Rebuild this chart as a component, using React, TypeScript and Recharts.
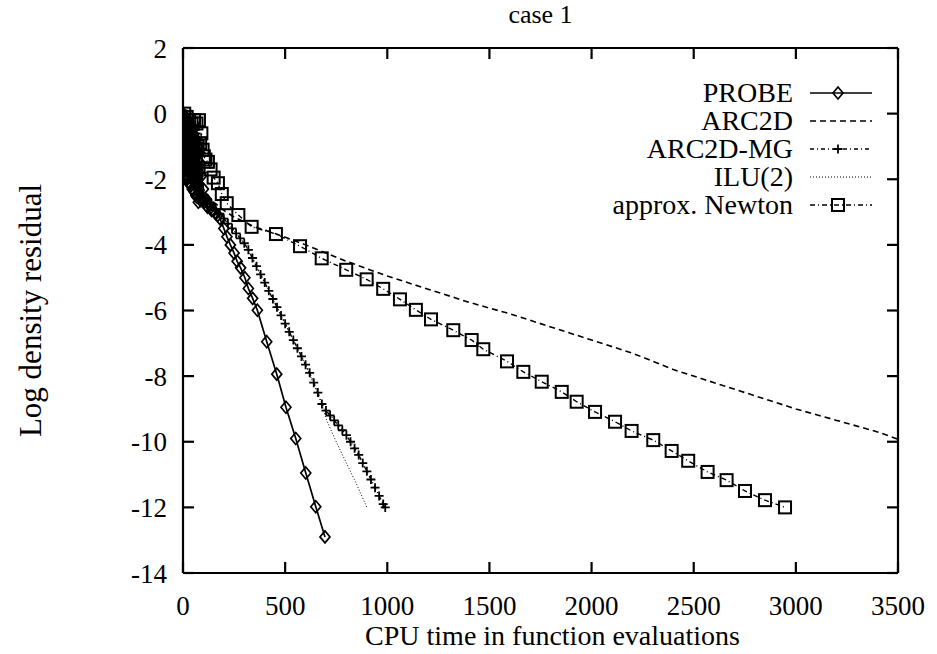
import React from 'react';
import { LineChart, Line, XAxis, YAxis, Legend, Label } from 'recharts';

const xTicks = [0, 500, 1000, 1500, 2000, 2500, 3000, 3500];
const yTicks = [2, 0, -2, -4, -6, -8, -10, -12, -14];

const title = 'case 1';
const xTitle = 'CPU time in function evaluations';
const yTitle = 'Log density residual';

const seriesNames = ['PROBE', 'ARC2D', 'ARC2D-MG', 'ILU(2)', 'approx. Newton'];

const probeX = [0, 3, 6, 9, 12, 15, 18, 21, 24, 27, 30, 33, 36, 39, 42, 45, 48, 51, 54, 57, 60, 63, 66, 69, 72, 75, 78, 81, 84, 87, 90, 95, 100, 105, 110, 120, 130, 140, 150, 160, 170, 181, 200, 215, 232, 250, 265, 282, 303, 320, 341, 364, 410, 459, 504, 552, 601, 650, 695];
const probeY = [-0.1, -1.8, -0.05, -1.9, -0.2, -1.95, -0.15, -2.0, -0.3, -2.1, -0.35, -2.15, -0.45, -2.2, -0.5, -2.3, -0.6, -2.35, -0.7, -2.4, -0.75, -2.5, -0.9, -2.55, -1.0, -2.7, -1.2, -2.6, -1.5, -2.65, -1.9, -2.6, -2.3, -2.7, -2.6, -2.85, -2.8, -2.95, -2.95, -3.05, -3.1, -3.2, -3.5, -3.75, -4.0, -4.25, -4.5, -4.7, -5.0, -5.33, -5.63, -5.99, -6.95, -7.94, -8.95, -9.9, -10.95, -11.98, -12.9];

const arcX = [0, 5, 10, 15, 20, 25, 30, 35, 40, 45, 50, 55, 60, 65, 70, 75, 80, 85, 90, 100, 150, 200, 250, 300, 350, 450, 600, 800, 1000, 1200, 1400, 1600, 1800, 2000, 2200, 2400, 2600, 2800, 3000, 3200, 3400, 3500];
const arcY = [0.1, -1.0, -0.1, -1.2, -0.2, -1.3, -0.3, -1.4, -0.4, -1.5, -0.5, -1.6, -0.6, -1.7, -0.8, -1.8, -1.0, -2.0, -1.6, -2.3, -2.7, -2.95, -3.15, -3.3, -3.45, -3.65, -4.0, -4.5, -4.95, -5.35, -5.75, -6.1, -6.5, -6.9, -7.3, -7.8, -8.2, -8.6, -9.0, -9.35, -9.7, -9.92];

const mgX = [0, 4, 8, 12, 16, 20, 24, 28, 32, 36, 40, 44, 48, 52, 56, 60, 64, 68, 72, 76, 80, 84, 88, 92, 96, 100, 120, 140, 160, 180, 200, 220, 240, 260, 280, 300, 320, 340, 360, 380, 400, 420, 440, 460, 480, 500, 520, 540, 560, 580, 600, 620, 640, 660, 680, 700, 720, 740, 760, 780, 800, 820, 840, 860, 880, 900, 920, 940, 960, 980, 990];
const mgY = [0.1, -1.5, 0.0, -1.6, -0.1, -1.7, -0.2, -1.8, -0.2, -1.9, -0.3, -2.0, -0.4, -2.1, -0.5, -2.2, -0.6, -2.3, -0.8, -2.4, -0.9, -2.5, -1.2, -2.5, -1.8, -2.5, -2.6, -2.75, -2.9, -3.05, -3.2, -3.35, -3.5, -3.65, -3.8, -3.95, -4.15, -4.4, -4.65, -4.9, -5.15, -5.4, -5.65, -5.9, -6.15, -6.4, -6.65, -6.9, -7.15, -7.4, -7.65, -7.9, -8.2, -8.5, -8.85, -9.05, -9.2, -9.35, -9.5, -9.65, -9.8, -10.0, -10.2, -10.4, -10.65, -10.9, -11.15, -11.4, -11.65, -11.9, -12.0];

const iluX = [0, 10, 20, 30, 40, 50, 60, 70, 80, 90, 100, 200, 300, 400, 500, 600, 680, 700, 750, 800, 850, 900];
const iluY = [0.0, -0.5, -0.8, -1.1, -1.4, -1.7, -1.9, -2.1, -2.3, -2.4, -2.5, -3.2, -3.95, -5.15, -6.4, -7.65, -8.85, -9.3, -10.0, -10.65, -11.3, -12.0];

const newtonX = [0, 6, 12, 18, 24, 30, 36, 42, 48, 54, 60, 66, 72, 78, 84, 90, 96, 102, 110, 122, 135, 150, 171, 190, 214, 271, 336, 455, 573, 679, 799, 899, 980, 1062, 1140, 1214, 1323, 1413, 1470, 1586, 1666, 1756, 1854, 1927, 2017, 2115, 2196, 2302, 2392, 2473, 2568, 2661, 2751, 2849, 2947];
const newtonY = [-0.2, 0.0, -0.6, -0.1, -0.8, -0.2, -0.9, -0.3, -1.0, -0.2, -1.1, -0.3, -1.0, -0.2, -0.9, -0.6, -1.1, -1.3, -1.4, -1.47, -1.7, -1.95, -2.12, -2.45, -2.73, -3.09, -3.45, -3.67, -4.04, -4.41, -4.76, -5.05, -5.34, -5.66, -5.98, -6.27, -6.6, -6.9, -7.18, -7.55, -7.87, -8.17, -8.48, -8.78, -9.09, -9.39, -9.67, -9.95, -10.28, -10.58, -10.92, -11.17, -11.5, -11.78, -12.0];

const zip = (xs: number[], ys: number[]) => xs.map((x, i) => ({ x, y: ys[i] }));
const probeData = zip(probeX, probeY);
const arcData = zip(arcX, arcY);
const mgData = zip(mgX, mgY);
const iluData = zip(iluX, iluY);
const newtonData = zip(newtonX, newtonY);

const X_MIN = 0, X_MAX = 3500, Y_MIN = -14, Y_MAX = 2;

const FONT = "'Liberation Serif', 'Times New Roman', serif";
const FS = 27;
const TL = 11; // inward tick length, px
const XM = 23; // gap between bottom axis and its labels
const YM = 16; // gap between left axis and its labels

const diamond = (cx: number, cy: number, key?: string) => (
  <path key={key} d={`M${cx},${cy - 6}L${cx + 5},${cy}L${cx},${cy + 6}L${cx - 5},${cy}Z`} fill="none" stroke="#000" strokeWidth={1.7} />
);
const square = (cx: number, cy: number, key?: string) => (
  <rect key={key} x={cx - 6} y={cy - 6} width={12} height={12} fill="none" stroke="#000" strokeWidth={2} />
);
const plus = (cx: number, cy: number, key?: string) => (
  <path key={key} d={`M${cx - 4.5},${cy}L${cx + 4.5},${cy}M${cx},${cy - 4.5}L${cx},${cy + 4.5}`} stroke="#000" strokeWidth={1.8} />
);

const DiamondDot = (p: any) => diamond(p.cx, p.cy, `d${p.index}`);
const SquareDot = (p: any) => square(p.cx, p.cy, `s${p.index}`);
const PlusDot = (p: any) => plus(p.cx, p.cy, `p${p.index}`);

// custom tick renderers: an inward tick mark plus (for bottom/left) the value text
const BottomTick = (p: any) => (
  <g>
    <line x1={p.x} x2={p.x} y1={p.y - XM} y2={p.y - XM - TL} stroke="#000" strokeWidth={2.2} />
    <text x={p.x} y={p.y} dy="0.71em" textAnchor="middle" fontFamily={FONT} fontSize={FS} fill="#000">{p.payload.value}</text>
  </g>
);
const LeftTick = (p: any) => (
  <g>
    <line x1={p.x + YM} x2={p.x + YM + TL} y1={p.y} y2={p.y} stroke="#000" strokeWidth={2.2} />
    <text x={p.x} y={p.y} dy="0.355em" textAnchor="end" fontFamily={FONT} fontSize={FS} fill="#000">{p.payload.value}</text>
  </g>
);
const TopTick = (p: any) => (
  <line x1={p.x} x2={p.x} y1={p.y} y2={p.y + TL} stroke="#000" strokeWidth={2.2} />
);
const RightTick = (p: any) => (
  <line x1={p.x} x2={p.x - TL} y1={p.y} y2={p.y} stroke="#000" strokeWidth={2.2} />
);

const legendStyles = [
  { dash: undefined, mark: diamond, w: 1.7 },
  { dash: '6 4', mark: null, w: 1.5 },
  { dash: '4 3 1 3', mark: plus, w: 1.3 },
  { dash: '1 2', mark: null, w: 1 },
  { dash: '5 3 1 3', mark: square, w: 1.3 },
];

const renderLegend = () => (
  <svg width={937} height={240} style={{ display: 'block', overflow: 'visible' }}>
    {seriesNames.map((name, i) => {
      const cy = 93 + i * 28;
      const s = legendStyles[i];
      return (
        <g key={name}>
          <text x={793} y={cy + 9} textAnchor="end" fontFamily={FONT} fontSize={28} fill="#000">{name}</text>
          <line x1={810} x2={872} y1={cy} y2={cy} stroke="#000" strokeWidth={s.w} strokeDasharray={s.dash} />
          {s.mark ? s.mark(838, cy) : null}
        </g>
      );
    })}
  </svg>
);

const axisStroke = { stroke: '#000', strokeWidth: 2.2 };

export default function App() {
  return (
    <div style={{ position: 'absolute', left: 0, top: 0, width: 937, height: 654, background: '#fff' }}>
      <LineChart width={937} height={654} margin={{ top: 47, right: 38, bottom: 41, left: 123 }}>
        <XAxis xAxisId="b" type="number" dataKey="x" domain={[X_MIN, X_MAX]} ticks={xTicks} allowDataOverflow
          height={40} tickSize={0} tickMargin={XM} tick={BottomTick} axisLine={axisStroke} tickLine={false} interval={0}>
          <Label value={xTitle} position="bottom" offset={12} dx={12} style={{ fontFamily: FONT, fontSize: 28, fill: '#000' }} />
        </XAxis>
        <XAxis xAxisId="t" orientation="top" type="number" dataKey="x" domain={[X_MIN, X_MAX]} ticks={xTicks} allowDataOverflow
          height={1} tickSize={0} tickMargin={0} tick={TopTick} tickLine={false} axisLine={axisStroke} interval={0}>
          <Label value={title} position="top" offset={24} style={{ fontFamily: FONT, fontSize: 26, fill: '#000' }} />
        </XAxis>
        <YAxis yAxisId="l" type="number" domain={[Y_MIN, Y_MAX]} ticks={yTicks} allowDataOverflow width={60}
          tickSize={0} tickMargin={YM} tick={LeftTick} axisLine={axisStroke} tickLine={false} interval={0}>
          <Label content={(props: any) => {
            const vb = props.viewBox || { x: 123, y: 48, height: 525 };
            const cx = 30;
            const cy = vb.y + vb.height / 2;
            return (
              <text x={cx} y={cy} transform={`rotate(-90 ${cx} ${cy})`} textAnchor="middle" dominantBaseline="central"
                fontFamily={FONT} fontSize={31} fill="#000">{yTitle}</text>
            );
          }} />
        </YAxis>
        <YAxis yAxisId="r" orientation="right" type="number" domain={[Y_MIN, Y_MAX]} ticks={yTicks} allowDataOverflow width={1}
          tickSize={0} tickMargin={0} tick={RightTick} tickLine={false} axisLine={axisStroke} interval={0} />
        <Legend layout="vertical" verticalAlign="middle" align="center" content={renderLegend}
          wrapperStyle={{ left: 0, top: 0, width: 937, height: 0 }} />

        <Line xAxisId="b" yAxisId="l" data={arcData} dataKey="y" name="ARC2D" stroke="#000" strokeWidth={1.6}
          strokeDasharray="6 4" dot={false} isAnimationActive={false} />
        <Line xAxisId="b" yAxisId="l" data={iluData} dataKey="y" name="ILU(2)" stroke="#000" strokeWidth={1}
          strokeDasharray="1 2" dot={false} isAnimationActive={false} />
        <Line xAxisId="b" yAxisId="l" data={newtonData} dataKey="y" name="approx. Newton" stroke="#000" strokeWidth={1.4}
          strokeDasharray="5 3 1 3" dot={SquareDot} isAnimationActive={false} />
        <Line xAxisId="b" yAxisId="l" data={mgData} dataKey="y" name="ARC2D-MG" stroke="#000" strokeWidth={1.4}
          strokeDasharray="4 3 1 3" dot={PlusDot} isAnimationActive={false} />
        <Line xAxisId="b" yAxisId="l" data={probeData} dataKey="y" name="PROBE" stroke="#000" strokeWidth={1.7}
          dot={DiamondDot} isAnimationActive={false} />
      </LineChart>
    </div>
  );
}
